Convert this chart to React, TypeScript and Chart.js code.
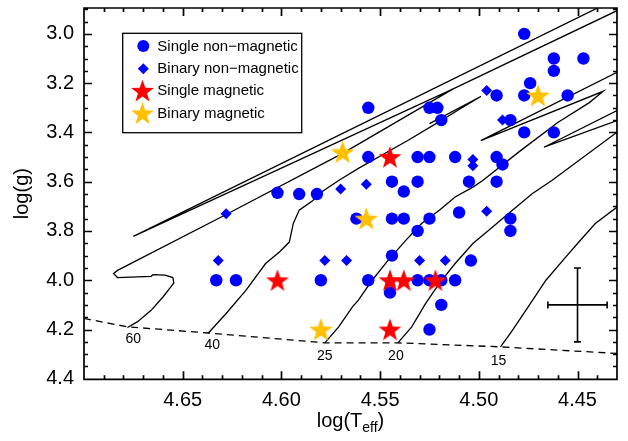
import React, { useEffect, useRef } from 'react';
import { Chart, registerables } from 'chart.js';
Chart.register(...registerables);

const FONT = '"Liberation Sans", Arial, Helvetica, sans-serif';

// ---- data (log Teff, log g) ----
const singleNonMagX = [4.477, 4.462, 4.447, 4.462, 4.474, 4.491, 4.477, 4.455, 4.556, 4.525, 4.521, 4.519, 4.484, 4.477, 4.462, 4.556, 4.531, 4.525, 4.512, 4.491, 4.488, 4.544, 4.531, 4.505, 4.491, 4.538, 4.602, 4.591, 4.582, 4.562, 4.544, 4.538, 4.525, 4.510, 4.484, 4.484, 4.531, 4.544, 4.504, 4.633, 4.623, 4.580, 4.556, 4.531, 4.525, 4.519, 4.512, 4.545, 4.519, 4.525];
const singleNonMagY = [3.00, 3.10, 3.10, 3.15, 3.20, 3.25, 3.25, 3.25, 3.30, 3.30, 3.30, 3.35, 3.35, 3.40, 3.40, 3.50, 3.50, 3.50, 3.50, 3.50, 3.53, 3.60, 3.60, 3.60, 3.60, 3.64, 3.645, 3.65, 3.65, 3.75, 3.75, 3.75, 3.75, 3.725, 3.75, 3.80, 3.80, 3.90, 3.92, 4.00, 4.00, 4.00, 4.00, 4.00, 4.00, 4.00, 4.00, 4.05, 4.10, 4.20];
const binaryNonMagX = [4.496, 4.488, 4.503, 4.503, 4.557, 4.570, 4.628, 4.496, 4.632, 4.578, 4.567, 4.530, 4.517];
const binaryNonMagY = [3.23, 3.35, 3.51, 3.535, 3.61, 3.63, 3.73, 3.72, 3.92, 3.92, 3.92, 3.92, 3.92];
const singleMagX = [4.545, 4.602, 4.545, 4.538, 4.522, 4.545];
const singleMagY = [3.50, 4.00, 4.00, 4.00, 4.00, 4.20];
const binaryMagX = [4.569, 4.470, 4.557, 4.580];
const binaryMagY = [3.48, 3.25, 3.75, 4.20];

// evolutionary tracks
const track60X = [4.678, 4.673, 4.666, 4.660, 4.656, 4.6545, 4.655, 4.659, 4.665, 4.666, 4.683, 4.685, 4.683, 4.628, 4.569, 4.513, 4.675, 4.430];
const track60Y = [4.192, 4.169, 4.122, 4.068, 4.027, 4.011, 3.989, 3.979, 3.977, 3.984, 3.989, 3.973, 3.960, 3.733, 3.485, 3.223, 3.822, 2.856];
const track60bX = [4.513, 4.430];
const track60bY = [3.223, 2.906];
const track40X = [4.637, 4.628, 4.618, 4.608, 4.601, 4.596, 4.594, 4.591, 4.584, 4.581, 4.571, 4.561, 4.536, 4.520, 4.510, 4.499, 4.525];
const track40Y = [4.214, 4.135, 4.041, 3.932, 3.885, 3.845, 3.770, 3.716, 3.676, 3.649, 3.595, 3.546, 3.433, 3.356, 3.307, 3.254, 3.364];
const track25X = [4.578, 4.571, 4.564, 4.561, 4.554, 4.546, 4.537, 4.529, 4.520, 4.512, 4.503, 4.498, 4.480, 4.460, 4.444, 4.437, 4.499, 4.430];
const track25Y = [4.254, 4.189, 4.108, 4.081, 4.000, 3.919, 3.838, 3.770, 3.716, 3.662, 3.622, 3.595, 3.481, 3.360, 3.279, 3.233, 3.433, 3.156];
const track20X = [4.541, 4.534, 4.527, 4.520, 4.512, 4.503, 4.493, 4.483, 4.473, 4.463, 4.430];
const track20Y = [4.254, 4.189, 4.095, 4.013, 3.932, 3.851, 3.784, 3.716, 3.649, 3.595, 3.399];
const track20bX = [4.430, 4.467, 4.430];
const track20bY = [3.352, 3.460, 3.311];
const track15X = [4.489, 4.483, 4.475, 4.466, 4.456, 4.450, 4.441, 4.430];
const track15Y = [4.270, 4.203, 4.108, 4.000, 3.906, 3.851, 3.770, 3.703];
const zamsX = [4.700, 4.678, 4.637, 4.578, 4.541, 4.490, 4.430];
const zamsY = [4.155, 4.189, 4.214, 4.254, 4.254, 4.270, 4.297];

const trackLabels = ['60', '40', '25', '20', '15'];
const trackLabelX = [4.675, 4.635, 4.578, 4.542, 4.490];
const trackLabelY = [4.239, 4.264, 4.308, 4.308, 4.328];

const xMajorTicks = [4.45, 4.50, 4.55, 4.60, 4.65];
const yMajorTicks = [3.0, 3.2, 3.4, 3.6, 3.8, 4.0, 4.2, 4.4];

// typical error bar
const errX = 4.45, errY = 4.10, errDX = 0.015, errDY = 0.15;

const legendNames = ['Single non\u2212magnetic', 'Binary non\u2212magnetic', 'Single magnetic', 'Binary magnetic'];

const BLUE = '#0000ff';
const RED = '#ff0000';
const GOLD = '#ffc000';

// canvas is shifted up by OY px so the plot frame lands where the reference has it
const OY = 5;

const zip = (xs: number[], ys: number[]) => xs.map((x, i) => ({ x, y: ys[i] }));

function makeStar(color: string, outer: number) {
  const c = document.createElement('canvas');
  const s = Math.ceil(outer * 2 + 2);
  c.width = s; c.height = s;
  const ctx = c.getContext('2d')!;
  drawStar(ctx, s / 2, s / 2 + outer * 0.08, outer, color);
  return c;
}
function drawStar(ctx: CanvasRenderingContext2D, cx: number, cy: number, outer: number, color: string) {
  const inner = outer * 0.4;
  ctx.beginPath();
  for (let i = 0; i < 10; i++) {
    const r = i % 2 === 0 ? outer : inner;
    const a = -Math.PI / 2 + (i * Math.PI) / 5;
    const px = cx + r * Math.cos(a), py = cy + r * Math.sin(a);
    if (i === 0) ctx.moveTo(px, py); else ctx.lineTo(px, py);
  }
  ctx.closePath();
  ctx.fillStyle = color;
  ctx.fill();
}
function drawDiamond(ctx: CanvasRenderingContext2D, cx: number, cy: number, r: number, color: string) {
  ctx.beginPath();
  ctx.moveTo(cx, cy - r); ctx.lineTo(cx + r, cy); ctx.lineTo(cx, cy + r); ctx.lineTo(cx - r, cy);
  ctx.closePath(); ctx.fillStyle = color; ctx.fill();
}

const decor = {
  id: 'decor',
  afterDraw(chart: any) {
    const { ctx, chartArea: a, scales } = chart;
    const xs = scales.x, ys = scales.y;
    ctx.save();
    ctx.strokeStyle = '#000';
    ctx.fillStyle = '#000';
    ctx.setLineDash([]);
    // frame + inward ticks in one path
    ctx.lineWidth = 1.7;
    ctx.beginPath();
    ctx.rect(a.left, a.top, a.right - a.left, a.bottom - a.top);
    for (let k = 443; k <= 470; k++) {
      const major = k % 5 === 0;
      const len = major ? 8 : 4;
      const px = Math.round(xs.getPixelForValue(k / 100)) + 0.5;
      if (!(px > a.left + 1 && px < a.right - 1)) continue;
      ctx.moveTo(px, a.bottom); ctx.lineTo(px, a.bottom - len);
      ctx.moveTo(px, a.top); ctx.lineTo(px, a.top + len);
    }
    for (let k = 58; k <= 88; k++) {
      const major = k % 4 === 0;
      const len = major ? 8 : 4;
      const py = Math.round(ys.getPixelForValue(k / 20)) + 0.5;
      if (!(py > a.top + 1 && py < a.bottom - 1)) continue;
      ctx.moveTo(a.left, py); ctx.lineTo(a.left + len, py);
      ctx.moveTo(a.right, py); ctx.lineTo(a.right - len, py);
    }
    ctx.stroke();

    // error bar
    ctx.lineWidth = 1.6;
    const ex = xs.getPixelForValue(errX), ey = ys.getPixelForValue(errY);
    const exl = xs.getPixelForValue(errX + errDX), exr = xs.getPixelForValue(errX - errDX);
    const eyt = ys.getPixelForValue(errY - errDY), eyb = ys.getPixelForValue(errY + errDY);
    ctx.beginPath();
    ctx.moveTo(exl, ey); ctx.lineTo(exr, ey);
    ctx.moveTo(ex, eyt); ctx.lineTo(ex, eyb);
    ctx.moveTo(exl, ey - 3.5); ctx.lineTo(exl, ey + 3.5);
    ctx.moveTo(exr, ey - 3.5); ctx.lineTo(exr, ey + 3.5);
    ctx.moveTo(ex - 3.5, eyt); ctx.lineTo(ex + 3.5, eyt);
    ctx.moveTo(ex - 3.5, eyb); ctx.lineTo(ex + 3.5, eyb);
    ctx.stroke();

    // track labels
    ctx.font = `14px ${FONT}`;
    ctx.textAlign = 'center';
    ctx.textBaseline = 'middle';
    trackLabels.forEach((t, i) => {
      ctx.fillText(t, xs.getPixelForValue(trackLabelX[i]), ys.getPixelForValue(trackLabelY[i]));
    });

    // legend
    const lx = 122.7, ly = 33.3 + OY, lw = 179, lh = 99.4;
    ctx.fillStyle = '#fff';
    ctx.fillRect(lx, ly, lw, lh);
    ctx.lineWidth = 1.3;
    ctx.strokeRect(lx, ly, lw, lh);
    const rows = [46, 68.7, 90.7, 113.3].map((r) => r + OY);
    ctx.beginPath(); ctx.arc(143.3, rows[0], 6, 0, Math.PI * 2); ctx.fillStyle = BLUE; ctx.fill();
    drawDiamond(ctx, 143.3, rows[1], 5.5, BLUE);
    drawStar(ctx, 142.5, rows[2] + 1, 12, RED);
    drawStar(ctx, 142.5, rows[3] + 1, 12, GOLD);
    ctx.fillStyle = '#000';
    ctx.font = `15px ${FONT}`;
    ctx.textAlign = 'left';
    legendNames.forEach((n, i) => ctx.fillText(n, 157.3, rows[i] + 0.5));

    // axis titles
    ctx.font = `20px ${FONT}`;
    ctx.textAlign = 'center';
    ctx.save();
    ctx.translate(22, (a.top + a.bottom) / 2);
    ctx.rotate(-Math.PI / 2);
    ctx.fillText('log(g)', 0, 0);
    ctx.restore();
    const parts: [string, number, number][] = [['log(T', 20, 0], ['eff', 14, 5], [')', 20, 0]];
    ctx.textAlign = 'left';
    ctx.textBaseline = 'alphabetic';
    let total = 0;
    parts.forEach(([t, s]) => { ctx.font = `${s}px ${FONT}`; total += ctx.measureText(t).width; });
    let cx = (a.left + a.right) / 2 - total / 2;
    const base = 427 + OY;
    parts.forEach(([t, s, dy]) => { ctx.font = `${s}px ${FONT}`; ctx.fillText(t, cx, base + dy); cx += ctx.measureText(t).width; });
    ctx.restore();
  },
};

const noPad = (s: any) => { s.paddingTop = 0; s.paddingBottom = 0; s.paddingLeft = 0; s.paddingRight = 0; };

export default function App() {
  const ref = useRef<HTMLCanvasElement>(null);
  useEffect(() => {
    const canvas = ref.current!;
    const redStar = makeStar(RED, 12);
    const goldStar = makeStar(GOLD, 12.5);
    const lineDs = (xs: number[], ys: number[], dash: number[] = []) => ({
      data: zip(xs, ys), showLine: true, pointRadius: 0, borderColor: '#000', borderWidth: 1.3,
      borderDash: dash, fill: false, order: 10, tension: 0,
    });
    const chart = new Chart(canvas, {
      type: 'scatter',
      data: {
        datasets: [
          { label: legendNames[3], data: zip(binaryMagX, binaryMagY), pointStyle: goldStar as any, pointRadius: 12, order: 1 },
          { label: legendNames[2], data: zip(singleMagX, singleMagY), pointStyle: redStar as any, pointRadius: 12, order: 2 },
          { label: legendNames[1], data: zip(binaryNonMagX, binaryNonMagY), pointStyle: 'rectRot', pointRadius: 5.5, backgroundColor: BLUE, borderWidth: 0, order: 3 },
          { label: legendNames[0], data: zip(singleNonMagX, singleNonMagY), pointStyle: 'circle', pointRadius: 6.2, backgroundColor: BLUE, borderWidth: 0, order: 4 },
          lineDs(track60X, track60Y),
          lineDs(track60bX, track60bY),
          lineDs(track40X, track40Y),
          lineDs(track25X, track25Y),
          lineDs(track20X, track20Y),
          lineDs(track20bX, track20bY),
          lineDs(track15X, track15Y),
          lineDs(zamsX, zamsY, [7, 5]),
        ] as any,
      },
      options: {
        animation: false,
        responsive: false,
        devicePixelRatio: 1,
        layout: { padding: { top: 7.3, right: 10.3, left: 0, bottom: 0 } },
        plugins: { legend: { display: false }, tooltip: { enabled: false } },
        scales: {
          x: {
            type: 'linear', reverse: true, min: 4.43, max: 4.70,
            afterBuildTicks: (s: any) => { s.ticks = xMajorTicks.map((v) => ({ value: v })); },
            afterFit: (s: any) => { s.height = 61.7; noPad(s); },
            ticks: { callback: (v: any) => Number(v).toFixed(2), font: { size: 20, family: FONT }, color: '#000', padding: 9, maxRotation: 0, autoSkip: false },
            grid: { display: false, drawTicks: false },
            border: { display: false },
          },
          y: {
            type: 'linear', reverse: true, min: 2.895, max: 4.402,
            afterBuildTicks: (s: any) => { s.ticks = yMajorTicks.map((v) => ({ value: v })); },
            afterFit: (s: any) => { s.width = 84; noPad(s); },
            ticks: { callback: (v: any) => Number(v).toFixed(1), font: { size: 20, family: FONT }, color: '#000', padding: 10, autoSkip: false },
            grid: { display: false, drawTicks: false },
            border: { display: false },
          },
        },
      } as any,
      plugins: [decor],
    });
    return () => chart.destroy();
  }, []);
  return (
    <div style={{ position: 'absolute', left: 0, top: 0, width: 628, height: 441, overflow: 'hidden', background: '#fff' }}>
      <canvas ref={ref} width={630} height={441 + OY} style={{ position: 'absolute', left: 0, top: -OY, width: 630, height: 441 + OY, display: 'block' }} />
    </div>
  );
}
